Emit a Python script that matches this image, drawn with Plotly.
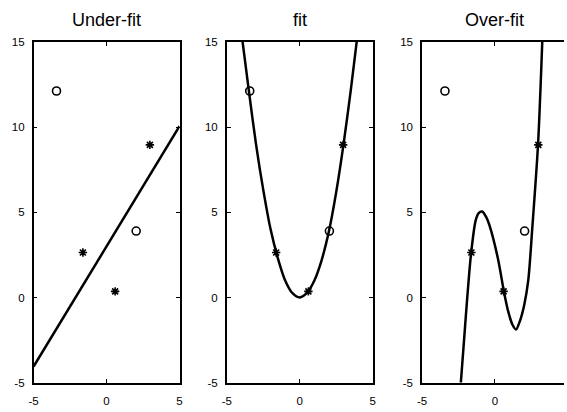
import plotly.graph_objects as go

# training points (stars) and test points (circles)
train_x = [-1.62, 0.59, 2.97]
train_y = [2.64, 0.36, 8.96]
test_x = [-3.43, 2.03]
test_y = [12.12, 3.9]

# under-fit line
under_x = [-5.0, 5.0]
under_y = [-4.05, 10.05]

# fit curve
fit_x = [-3.92, -3.5, -3.0, -2.5, -2.0, -1.5, -1.0, -0.5, 0.0, 0.5, 1.0, 1.5, 2.0, 2.5, 3.0, 3.5, 3.9]
fit_y = [15.0, 12.2, 9.0, 6.3, 4.0, 2.3, 1.0, 0.25, 0.0, 0.28, 1.0, 2.2, 3.9, 6.2, 9.0, 12.2, 15.0]

# over-fit curve
over_x = [-2.34, -2.12, -1.9, -1.64, -1.33, -1.12, -0.88, -0.6, -0.36, 0.2, 0.61, 0.9, 1.2, 1.44, 1.7, 2.0, 2.28, 2.55, 2.95, 3.24]
over_y = [-5.0, -2.5, 0.0, 2.58, 4.5, 4.95, 5.05, 4.72, 4.19, 2.29, 0.36, -0.8, -1.6, -1.88, -1.4, -0.45, 1.0, 4.0, 8.98, 15.0]

titles = ["Under-fit", "fit", "Over-fit"]
x_ticks = [-5, 0, 5]
y_ticks = [-5, 0, 5, 10, 15]

W, H = 567, 412
px_per_unit = 14.8
doms = [(29, 177), (225, 373), (423, 567)]
ytop, ybot = 37, 388

fig = go.Figure()
curves = [(under_x, under_y, "linear"), (fit_x, fit_y, "spline"), (over_x, over_y, "spline")]
for i, (cx, cy, shape) in enumerate(curves):
    ax = "" if i == 0 else str(i + 1)
    line = dict(color="black", width=2.5, shape=shape)
    if shape == "spline":
        line["smoothing"] = 0.8
    fig.add_trace(go.Scatter(x=cx, y=cy, mode="lines", line=line,
                             xaxis="x" + ax, yaxis="y" + ax, showlegend=False))
    fig.add_trace(go.Scatter(x=train_x, y=train_y, mode="markers",
                             marker=dict(symbol="asterisk-open", size=7, color="black", line=dict(width=1.6, color="black")),
                             xaxis="x" + ax, yaxis="y" + ax, showlegend=False))
    fig.add_trace(go.Scatter(x=test_x, y=test_y, mode="markers",
                             marker=dict(symbol="circle-open", size=8, color="black", line=dict(width=1.6, color="black")),
                             xaxis="x" + ax, yaxis="y" + ax, showlegend=False))

font = dict(family="Liberation Sans, Arial, sans-serif", size=11.5, color="black")
layout = dict(width=W, height=H, margin=dict(l=0, r=0, t=0, b=0),
              paper_bgcolor="white", plot_bgcolor="white", font=font)
annotations = []
for i, (a, b) in enumerate(doms):
    ax = "" if i == 0 else str(i + 1)
    xmax = -5 + (b - a) / px_per_unit
    layout["xaxis" + ax] = dict(domain=[a / W, b / W], range=[-5, xmax], anchor="y" + ax,
                                tickvals=x_ticks, ticktext=[str(v) for v in x_ticks],
                                ticks="inside", ticklen=4, tickcolor="black", tickwidth=1,
                                ticklabelstandoff=7,
                                showline=True, linecolor="black", linewidth=1.5, mirror="ticks",
                                showgrid=False, zeroline=False, tickfont=font)
    layout["yaxis" + ax] = dict(domain=[1 - ybot / H, 1 - ytop / H], range=[-5, 15], anchor="x" + ax,
                                tickvals=y_ticks, ticktext=[str(v) for v in y_ticks],
                                ticks="inside", ticklen=4, tickcolor="black", tickwidth=1,
                                ticklabelstandoff=5,
                                showline=True, linecolor="black", linewidth=1.5,
                                mirror=("ticks" if i < 2 else False),
                                showgrid=False, zeroline=False, tickfont=font)
    annotations.append(dict(text=titles[i], x=(a + a + 148) / 2 / W, y=1 - 14 / H, xref="paper", yref="paper",
                            xanchor="center", yanchor="middle", showarrow=False,
                            font=dict(family="Liberation Sans, Arial, sans-serif", size=18, color="black")))
layout["annotations"] = annotations
fig.update_layout(**layout)
fig.write_html("out.html")
